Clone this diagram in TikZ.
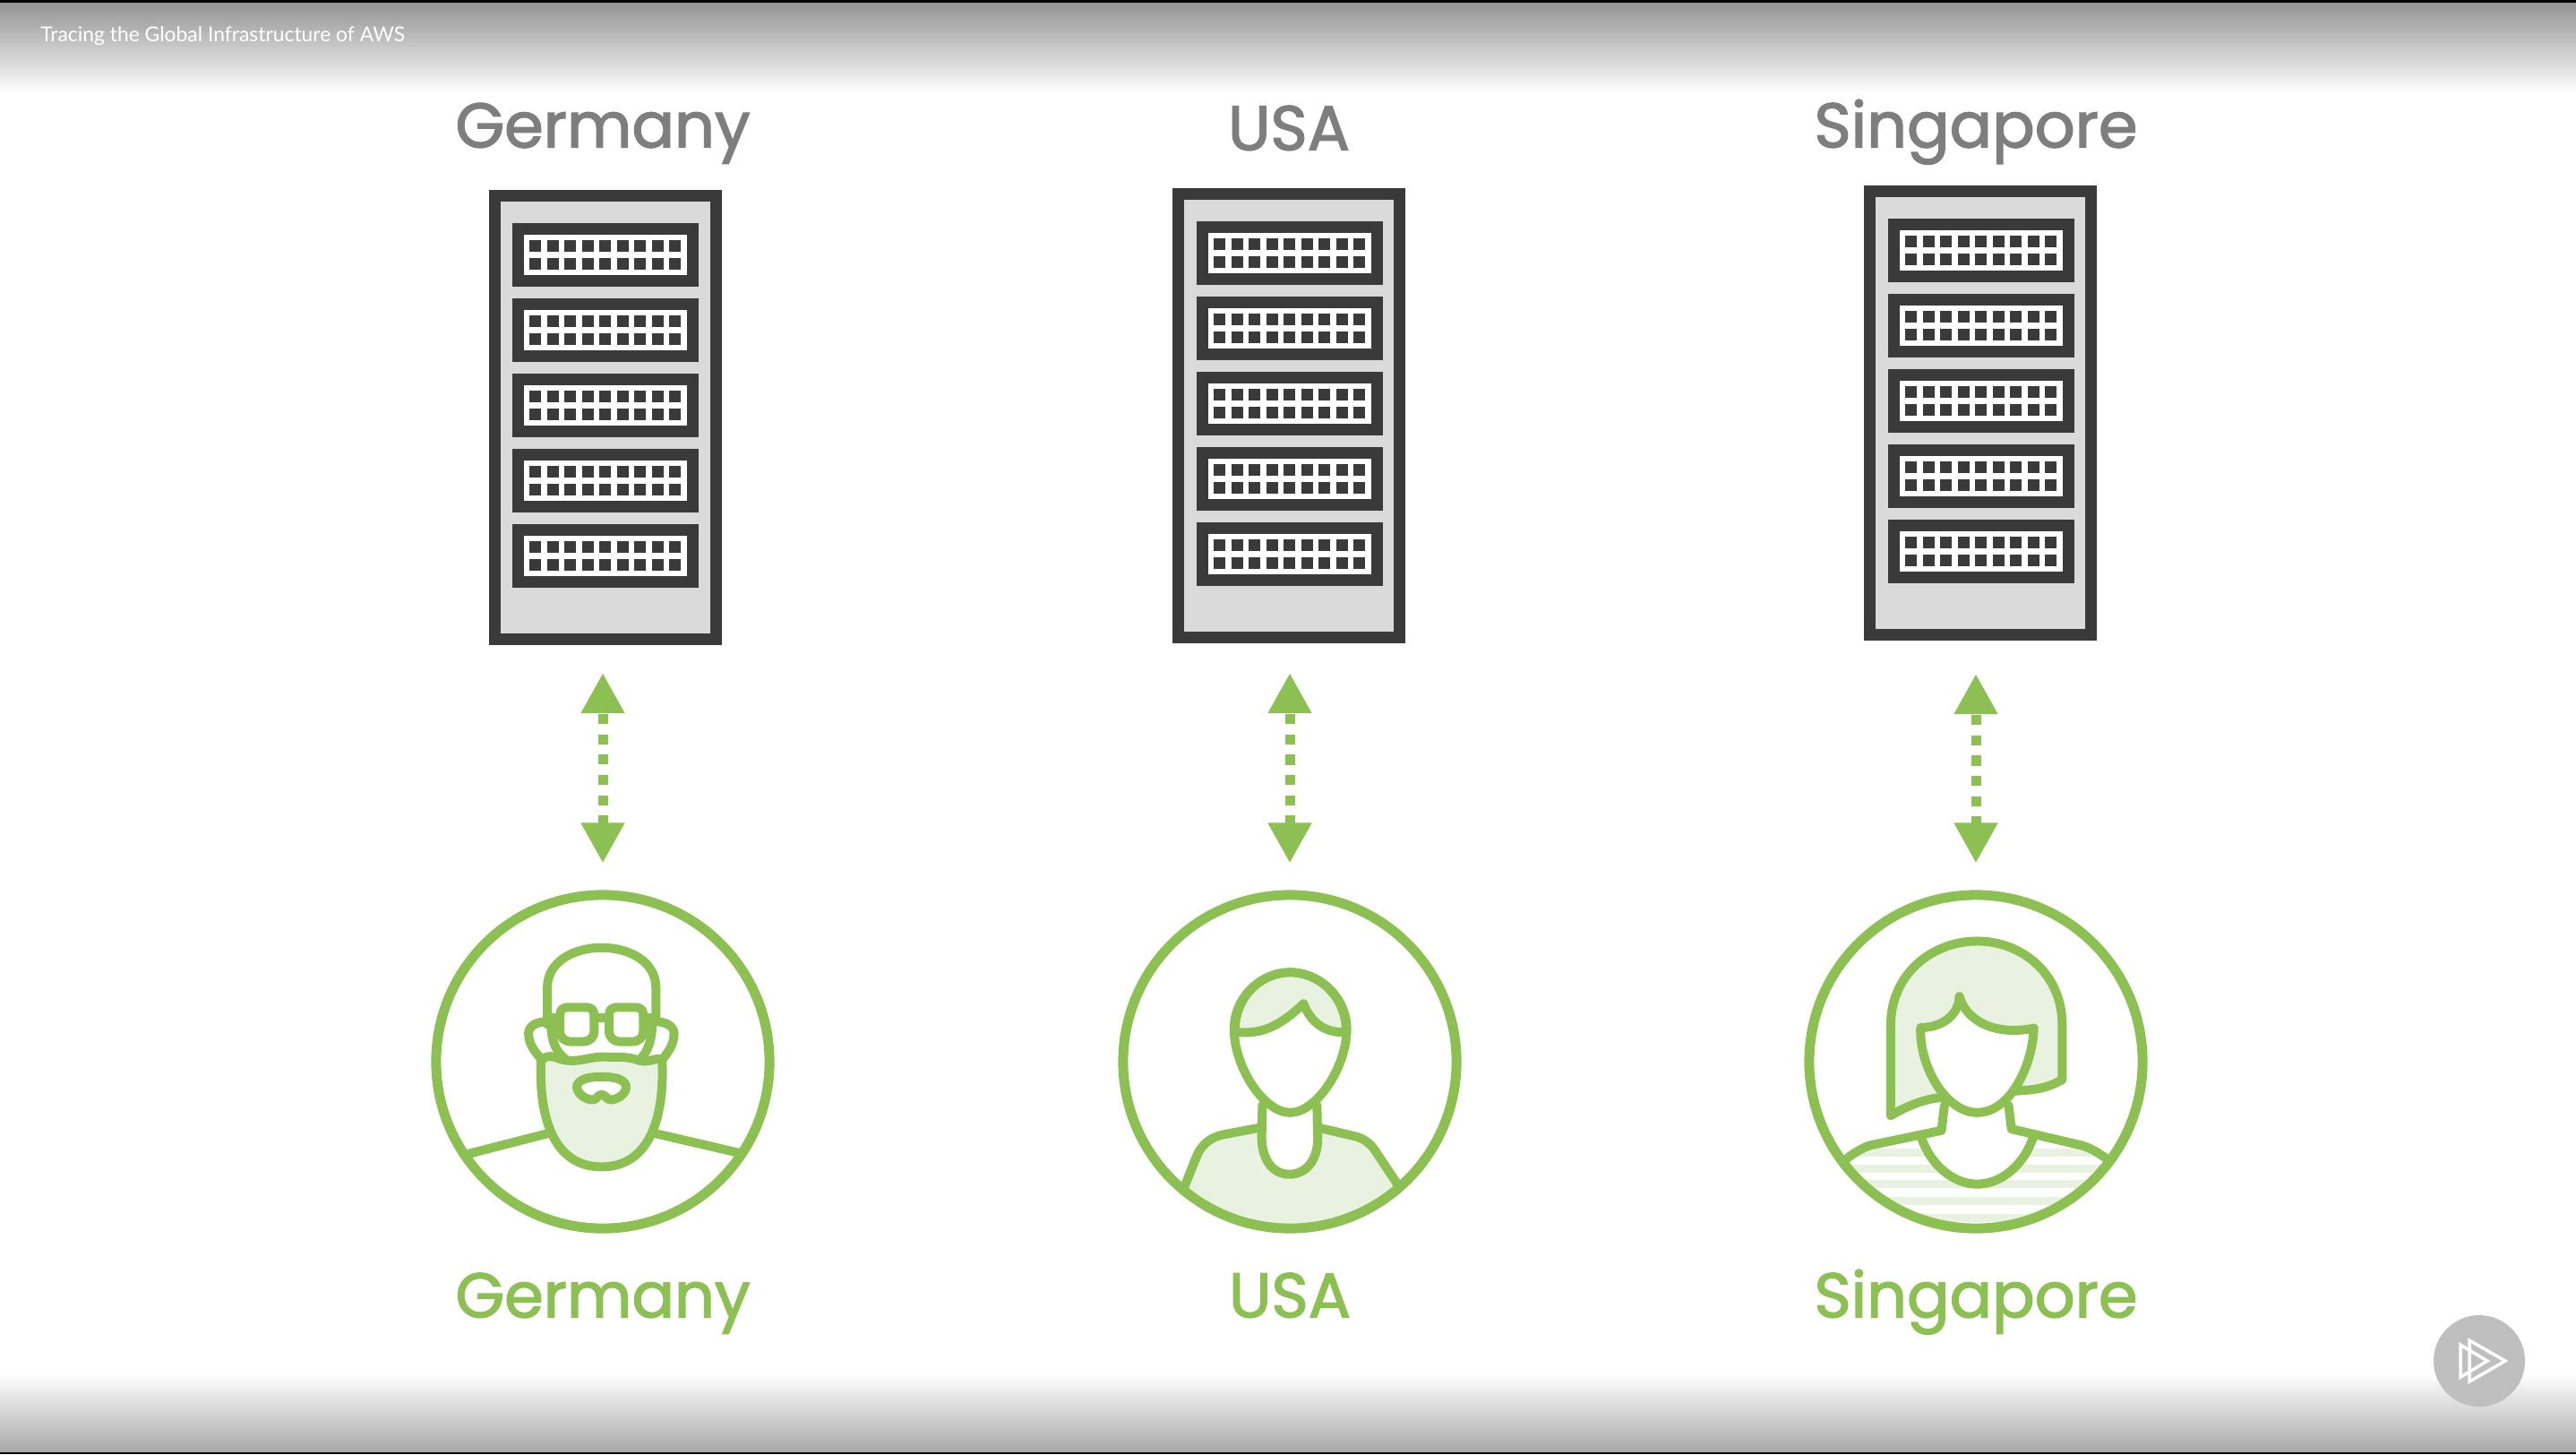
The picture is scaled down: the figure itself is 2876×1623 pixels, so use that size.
\documentclass[tikz,border=0pt]{standalone}
\usepackage{fontspec}
\newfontfamily\headfont[FakeBold=2]{Poppins}
\newfontfamily\titlefont{Lato}
\usetikzlibrary{arrows.meta, calc, positioning}
\definecolor{pgreen}{HTML}{8DC052}
\definecolor{plight}{HTML}{E9F2E0}
\definecolor{pdark}{HTML}{3A3A3A}
\definecolor{pgray}{HTML}{7E7E7E}
\definecolor{pshell}{HTML}{DADADA}

\begin{document}
\begin{tikzpicture}[
            x=0.01cm, y=-0.01cm,
            rackbox/.style={rectangle, draw=pdark, fill=pshell, line width=0.13cm,
            minimum width=2.47cm, minimum height=4.95cm, inner sep=0pt},
            slotbox/.style={draw=pdark, fill=white, line width=0.13cm},
            userbox/.style={circle, draw=pgreen, line width=0.11cm,
            minimum size=3.72cm, inner sep=0pt},
            figline/.style={draw=pgreen, line width=0.1cm, line join=round, line cap=round},
            link/.style={draw=pgreen, line width=0.11cm, dash pattern=on 0.11cm off 0.115cm,
            dash phase=0.185cm, {Triangle[width=0.46cm, length=0.45cm]}-{Triangle[width=0.46cm, length=0.45cm]},
            shorten >=0.30cm},
            head/.style={font=\headfont\fontsize{20}{21}\selectfont, text=pgray,
            inner sep=0pt, text height=0.37cm, text depth=0.1cm},
            tag/.style={font=\headfont\fontsize{20}{21}\selectfont, text=pgreen,
            inner sep=0pt, text height=0.37cm, text depth=0.1cm}
        ]
\useasboundingbox (0,0) rectangle (2876,1623);

% ----- Balken oben und unten -----
            \shade[top color=black!42, bottom color=white] (0,3) rectangle (2876,105);
            \fill[black] (0,0) rectangle (2876,3);
            \shade[top color=white, bottom color=black!34] (0,1533) rectangle (2876,1621);
            \fill[black] (0,1621) rectangle (2876,1623);
            \node[anchor=west, text=white, font=\titlefont\fontsize{6.5}{7}\selectfont] (title) at (33,40) {Tracing the Global Infrastructure of AWS};

% ----- Racks -----
            \node[rackbox] (rackG) at (676,466) {};
            \node[rackbox] (rackU) at (1439,464) {};
            \node[rackbox] (rackS) at (2211,461) {};
            \foreach \rx/\ry in {546/212, 1310/210, 2082/207} {
                \foreach \row in {0,...,4} {
                    \draw[slotbox] ({\rx+32},{\ry+43+84*\row}) rectangle ({\rx+227},{\ry+101+84*\row});
                    \foreach \col in {0,...,8} {
                        \fill[pdark] ({\rx+45+19.5*\col},{\ry+56+84*\row}) rectangle +(13,13);
                        \fill[pdark] ({\rx+45+19.5*\col},{\ry+76+84*\row}) rectangle +(13,13);
                    }
                }
            }

% ----- Germany -----
            \begin{scope}[xshift=5cm, yshift=-9.7cm, x=0.00333cm, y=-0.00333cm]
                \path[figline] (333,520) -- (333,395) .. controls (333,310) and (420,262) .. (515,262) .. controls (610,262) and (697,310) .. (697,395) -- (697,510);
                \path[figline, fill=plight] (312,640) .. controls (305,780) and (330,997) .. (515,997) .. controls (700,997) and (725,780) .. (718,640) .. controls (700,625) and (680,650) .. (640,640) .. controls (600,625) and (560,630) .. (515,628) .. controls (470,630) and (440,645) .. (400,640) .. controls (370,640) and (340,610) .. (312,640) -- cycle;
                \path[figline] (345,510) .. controls (345,570) and (360,615) .. (400,640);
                \path[figline] (685,510) .. controls (685,570) and (670,615) .. (640,640);
                \path[figline] (333,510) .. controls (295,510) and (270,525) .. (270,550) .. controls (270,585) and (290,610) .. (312,635);
                \path[figline] (697,510) .. controls (730,510) and (758,525) .. (758,550) .. controls (758,585) and (740,610) .. (720,635);
                \path[figline] (405,462) -- (460,462) .. controls (482,462) and (490,470) .. (490,490) -- (490,540) .. controls (490,565) and (475,577) .. (450,577) -- (415,577) .. controls (390,577) and (375,565) .. (375,540) -- (375,490) .. controls (375,470) and (383,462) .. (405,462) -- cycle;
                \path[figline] (570,462) -- (625,462) .. controls (647,462) and (655,470) .. (655,490) -- (655,540) .. controls (655,565) and (640,577) .. (615,577) -- (580,577) .. controls (555,577) and (540,565) .. (540,540) -- (540,490) .. controls (540,470) and (548,462) .. (570,462) -- cycle;
                \path[figline] (490,497) -- (540,497) (345,497) -- (375,497) (655,497) -- (685,497);
                \path[figline, fill=white] (432,725) .. controls (440,700) and (480,695) .. (515,695) .. controls (550,695) and (590,700) .. (597,725) .. controls (600,750) and (570,772) .. (545,772) .. controls (530,772) and (530,755) .. (515,755) .. controls (500,755) and (500,772) .. (485,772) .. controls (460,772) and (430,750) .. (432,725) -- cycle;
                \path[figline] (62,955) -- (335,885) (695,885) -- (975,950);
            \end{scope}

% ----- USA -----
            \begin{scope}[xshift=12.2cm, yshift=-9.7cm, x=0.00333cm, y=-0.00333cm]
                \begin{scope}
                    \clip (660,645) circle (187cm*0.01);
                    \path[figline, fill=plight] (305,1065) -- (345,965) .. controls (360,925) and (390,900) .. (430,890) -- (562,865) -- (752,865) -- (880,895) .. controls (915,905) and (935,925) .. (950,950) -- (1020,1055) -- (1020,1300) -- (305,1300) -- cycle;
                \end{scope}
                \path[figline, fill=white] (567,790) -- (565,880) .. controls (560,970) and (600,1022) .. (658,1022) .. controls (715,1022) and (760,970) .. (752,880) -- (750,790);
                \path[figline, fill=white] (660,345) .. controls (560,345) and (472,430) .. (472,535) .. controls (472,660) and (570,815) .. (660,815) .. controls (750,815) and (850,660) .. (850,535) .. controls (850,430) and (760,345) .. (660,345) -- cycle;
                \path[figline, fill=plight] (475,545) .. controls (570,555) and (630,520) .. (705,450) .. controls (730,515) and (780,550) .. (848,545) .. controls (850,430) and (760,345) .. (660,345) .. controls (560,345) and (472,430) .. (475,545) -- cycle;
            \end{scope}

% ----- Singapore -----
            \begin{scope}[xshift=19.9cm, yshift=-9.7cm, x=0.00333cm, y=-0.00333cm]
                \begin{scope}
                    \clip (205,975) -- (250,940) -- (535,870) -- (765,870) -- (1040,935) -- (1090,975) -- (1090,1300) -- (205,1300) -- cycle;
                    \clip (648,645) circle (187cm*0.01);
                    \foreach \sy in {936,990,1041,1098,1155}
                        \fill[plight] (200,\sy) rectangle (1100,\sy+28);
                \end{scope}
                \fill[white] (540,780) -- (530,875) -- (460,890) -- (840,890) -- (765,870) -- (755,785) -- cycle;
                \path[figline, fill=plight] (360,825) -- (360,520) .. controls (360,350) and (500,240) .. (650,240) .. controls (800,240) and (935,350) .. (935,520) -- (935,705) .. controls (890,730) and (850,738) .. (810,740) -- (525,765) .. controls (470,770) and (410,795) .. (360,825) -- cycle;
                \path[figline, fill=white] (460,530) .. controls (540,530) and (590,480) .. (590,425) .. controls (610,500) and (700,560) .. (840,532) .. controls (835,660) and (760,815) .. (650,815) .. controls (545,815) and (455,660) .. (460,530) -- cycle;
                \path[figline, fill=white] (460,890) .. controls (490,990) and (570,1055) .. (650,1055) .. controls (730,1055) and (810,990) .. (840,890);
                \path[figline] (205,975) .. controls (230,955) and (260,935) .. (290,925) -- (530,875) -- (540,790);
                \path[figline] (755,790) -- (765,870) -- (1000,925) .. controls (1035,935) and (1065,955) .. (1090,975);
            \end{scope}

% ----- Kreise -----
            \node[userbox] (userG) at (673,1185) {};
            \node[userbox] (userU) at (1440,1185) {};
            \node[userbox] (userS) at (2206,1185) {};

% ----- Kanten -----
            \draw[link, shorten <=0.31cm] (userG.north |- rackG.south) -- (userG.north);
            \draw[link, shorten <=0.33cm] (userU.north |- rackU.south) -- (userU.north);
            \draw[link, shorten <=0.37cm] (userS.north |- rackS.south) -- (userS.north);

% ----- Beschriftung -----
            \node[head] (headG) at (673,151) {Germany};
            \node[head] (headU) at (1439,154) {USA};
            \node[head] (headS) at (2206,151) {Singapore};
            \node[tag, below=0.56cm of userG] (tagG) {Germany};
            \node[tag, below=0.56cm of userU] (tagU) {USA};
            \node[tag, below=0.56cm of userS] (tagS) {Singapore};

% ----- Abspielknopf -----
            \node[circle, fill=black!25, minimum size=1.02cm, inner sep=0pt] (play) at (2768,1519) {};
            \draw[white, line width=0.035cm] (2747,1501) -- (2747,1537) -- (2777,1519) -- cycle;
            \draw[white, line width=0.035cm] (2757,1496) -- (2757,1542) -- (2797,1519) -- cycle;
        \end{tikzpicture}
\end{document}
